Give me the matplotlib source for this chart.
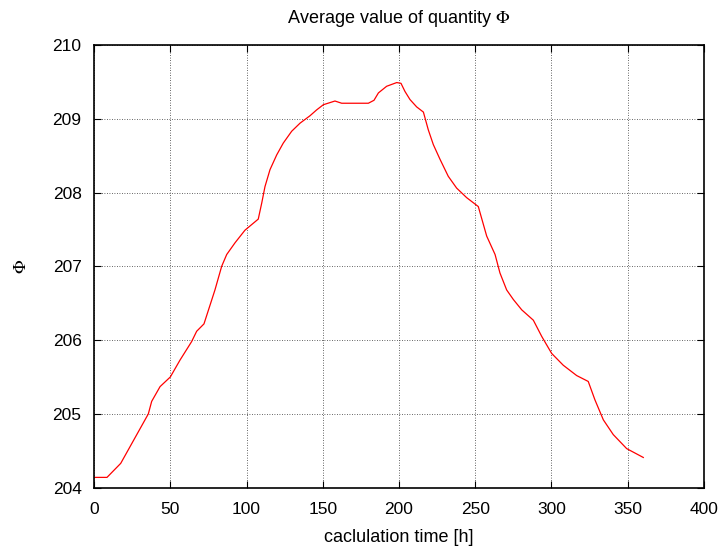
import matplotlib
matplotlib.use("Agg")
import matplotlib.pyplot as plt

# Valores
horas = [0, 8.5, 17.5, 35.6, 37.8, 43.3, 50, 56.4, 64, 67.3, 72.1, 79.3, 83.7,
         87, 92.5, 99, 107.7, 110, 112.1, 115.4, 119.8, 124.1, 129.6, 135.1,
         141.6, 146, 150.4, 158, 162.4, 179.9, 183.6, 186.5, 191.9, 198.5,
         201.3, 203.9, 207.2, 211.6, 216, 219.2, 222.5, 226.9, 232.3, 237.8,
         244.4, 252, 257.5, 263, 266.2, 270.6, 275, 280.5, 288.1, 293.6, 300.1,
         307.7, 316.5, 324.1, 328.5, 334, 340.5, 349.3, 360.2]
phi = [204.14, 204.14, 204.33, 205.0, 205.17, 205.37, 205.50, 205.73, 205.98,
       206.12, 206.22, 206.68, 207.0, 207.16, 207.32, 207.49, 207.64, 207.86,
       208.08, 208.31, 208.51, 208.67, 208.83, 208.94, 209.04, 209.12, 209.19,
       209.24, 209.21, 209.21, 209.25, 209.35, 209.44, 209.49, 209.48, 209.37,
       209.26, 209.16, 209.09, 208.85, 208.65, 208.45, 208.22, 208.06, 207.93,
       207.81, 207.41, 207.16, 206.91, 206.68, 206.55, 206.41, 206.27, 206.05,
       205.82, 205.66, 205.52, 205.44, 205.19, 204.92, 204.72, 204.53, 204.41]

x_ticks = [0, 50, 100, 150, 200, 250, 300, 350, 400]
y_ticks = [204, 205, 206, 207, 208, 209, 210]

plt.rcParams['font.family'] = ['Liberation Sans', 'DejaVu Sans']
plt.rcParams['mathtext.fontset'] = 'stix'

fig = plt.figure(figsize=(7.25, 5.48), dpi=100)
ax = fig.add_axes([0.1297, 0.110, 0.8413, 0.808])

ax.plot(horas, phi, color='red', linewidth=0.9)

ax.set_xlim(0, 400)
ax.set_ylim(204, 210)
ax.set_xticks(x_ticks)
ax.set_yticks(y_ticks)
ax.tick_params(direction='in', top=True, right=True, length=5, width=0.8,
               labelsize=12.5)
ax.tick_params(axis='x', pad=10)
ax.tick_params(axis='y', pad=9)
ax.grid(True, color='#333333', linestyle=(0, (1, 2)), linewidth=0.6)

for s in ax.spines.values():
    s.set_linewidth(1.2)

ax.set_title(r'Average value of quantity $\Phi$', fontsize=13, pad=16)
ax.set_xlabel('caclulation time [h]', fontsize=13, labelpad=9)
ax.set_ylabel(r'$\Phi$', fontsize=13, labelpad=16)

fig.savefig('out.png', dpi=100)
